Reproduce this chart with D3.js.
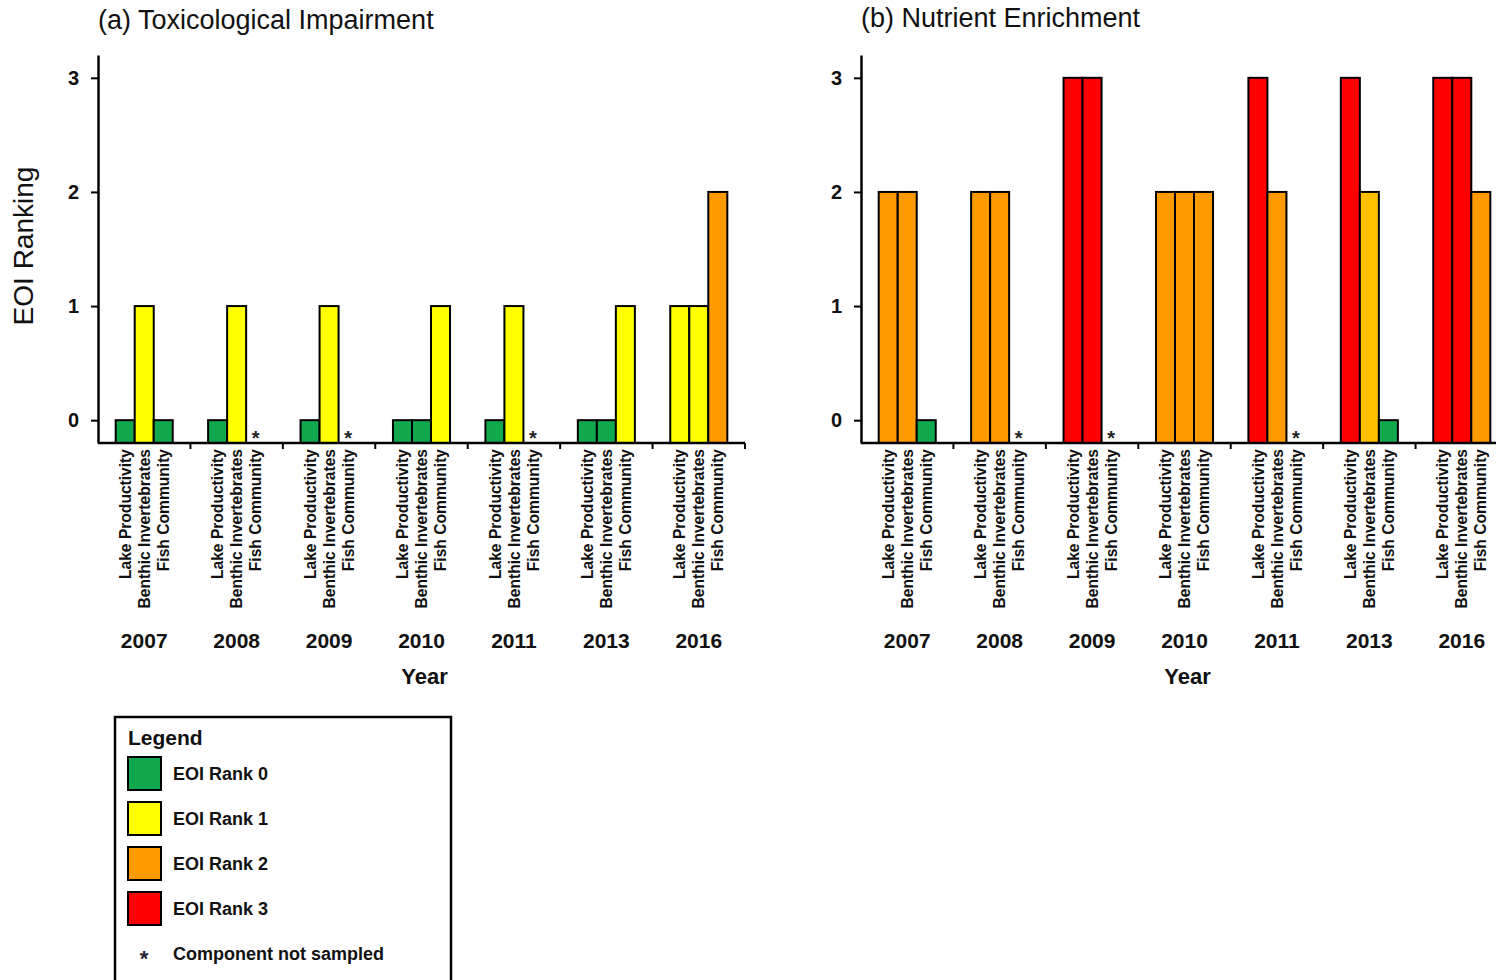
<!DOCTYPE html>
<html>
<head>
<meta charset="utf-8">
<script src="https://cdn.jsdelivr.net/npm/d3@7"></script>
<style>
  html, body { margin: 0; padding: 0; background: #fff; }
  svg { display: block; font-family: "Liberation Sans", Arial, sans-serif; }
</style>
</head>
<body>
<svg id="chart" width="1496" height="980"></svg>
<script>
// ---- data ----
const years = ["2007", "2008", "2009", "2010", "2011", "2013", "2016"];
const components = ["Lake Productivity", "Benthic Invertebrates", "Fish Community"];
// null = component not sampled
const toxicological = [
  [0, 1, 0],
  [0, 1, null],
  [0, 1, null],
  [0, 0, 1],
  [0, 1, null],
  [0, 0, 1],
  [1, 1, 2]
];
const nutrient = [
  [2, 2, 0],
  [2, 2, null],
  [3, 3, null],
  [2, 2, 2],
  [3, 2, null],
  [3, 2, 0],
  [3, 3, 2]
];
const yTicks = [0, 1, 2, 3];
const rankLabels = ["EOI Rank 0", "EOI Rank 1", "EOI Rank 2", "EOI Rank 3"];
const panelTitles = ["(a) Toxicological Impairment", "(b) Nutrient Enrichment"];

// ---- styles ----
const rankColors = ["#12A84E", "#FFFF00", "#FF9A00", "#FF0000"];
const goldFill = "#FFC000"; // 2013 benthic bar in panel (b) is drawn in a gold shade
const svg = d3.select("#chart");

const y = d3.scaleLinear().domain([-0.2, 3.2]).range([443, 55]);

function drawPanel(data, x0, x1, title, titleY, showYLabel, special) {
  const g = svg.append("g");
  const x = d3.scaleBand().domain(years).range([x0, x1]).padding(0);
  const xi = d3.scaleBand().domain(components).range([0, x.bandwidth()])
    .paddingInner(0).paddingOuter(0.93);

  // bars
  years.forEach((yr, i) => {
    data[i].forEach((v, j) => {
      const cx = x(yr) + xi(components[j]);
      if (v === null) {
        g.append("text")
          .attr("x", cx + xi.bandwidth() / 2)
          .attr("y", 445)
          .attr("text-anchor", "middle")
          .attr("font-size", 20)
          .attr("font-weight", "bold")
          .attr("fill", "#222")
          .text("*");
        return;
      }
      let fill = rankColors[v];
      if (special && special.year === yr && special.comp === j) fill = special.fill;
      g.append("rect")
        .attr("x", cx)
        .attr("y", y(v))
        .attr("width", xi.bandwidth())
        .attr("height", y(-0.2) - y(v))
        .attr("fill", fill)
        .attr("stroke", "#000")
        .attr("stroke-width", 2);
    });
  });

  // y axis
  const yAxis = d3.axisLeft(y).tickValues(yTicks).tickFormat(d3.format("d"))
    .tickSize(7).tickPadding(12).tickSizeOuter(0);
  const ya = g.append("g").attr("transform", `translate(${x0},0)`).call(yAxis);
  ya.select(".domain").attr("stroke", "#000").attr("stroke-width", 2.5);
  ya.selectAll(".tick line").attr("stroke", "#000").attr("stroke-width", 2);
  ya.selectAll(".tick text").attr("font-size", 20).attr("font-weight", "bold")
    .attr("fill", "#111").attr("font-family", "Liberation Sans, Arial, sans-serif");

  // x baseline with ticks at group boundaries
  const bounds = years.map(yr => x(yr)).concat([x1]);
  g.append("line").attr("x1", x0).attr("x2", x1)
    .attr("y1", y(-0.2)).attr("y2", y(-0.2))
    .attr("stroke", "#000").attr("stroke-width", 2.5);
  g.selectAll(".xt").data(bounds.slice(1)).enter().append("line")
    .attr("x1", d => d).attr("x2", d => d)
    .attr("y1", y(-0.2)).attr("y2", y(-0.2) + 6)
    .attr("stroke", "#000").attr("stroke-width", 2);

  // component labels
  years.forEach(yr => {
    components.forEach(c => {
      const cx = x(yr) + xi(c) + xi.bandwidth() / 2;
      g.append("text")
        .attr("transform", `translate(${cx},449) rotate(-90)`)
        .attr("text-anchor", "end")
        .attr("dy", "0.36em")
        .attr("font-size", 15.6)
        .attr("font-weight", "bold")
        .attr("fill", "#111")
        .text(c);
    });
    g.append("text")
      .attr("x", x(yr) + x.bandwidth() / 2)
      .attr("y", 648)
      .attr("text-anchor", "middle")
      .attr("font-size", 21)
      .attr("font-weight", "bold")
      .attr("fill", "#111")
      .text(yr);
  });

  g.append("text")
    .attr("x", (x0 + x1) / 2 + 3)
    .attr("y", 684)
    .attr("text-anchor", "middle")
    .attr("font-size", 22)
    .attr("font-weight", "bold")
    .attr("fill", "#111")
    .text("Year");

  g.append("text")
    .attr("x", x0)
    .attr("y", titleY)
    .attr("font-size", 27)
    .attr("fill", "#111")
    .text(title);

  if (showYLabel) {
    g.append("text")
      .attr("transform", "translate(33,246) rotate(-90)")
      .attr("text-anchor", "middle")
      .attr("font-size", 28)
      .attr("fill", "#111")
      .text("EOI Ranking");
  }
}

drawPanel(toxicological, 98, 745, panelTitles[0], 29, true, null);
drawPanel(nutrient, 861, 1508, panelTitles[1], 27, false, { year: "2013", comp: 1, fill: goldFill });

// ---- legend ----
const lg = svg.append("g");
lg.append("rect").attr("x", 115).attr("y", 717).attr("width", 336).attr("height", 280)
  .attr("fill", "#fff").attr("stroke", "#000").attr("stroke-width", 2.5);
lg.append("text").attr("x", 128).attr("y", 745).attr("font-size", 21)
  .attr("font-weight", "bold").attr("fill", "#111").text("Legend");
rankLabels.forEach((lab, i) => {
  lg.append("rect").attr("x", 128).attr("y", 757 + i * 45).attr("width", 33).attr("height", 33)
    .attr("fill", rankColors[i]).attr("stroke", "#000").attr("stroke-width", 2);
  lg.append("text").attr("x", 173).attr("y", 757 + i * 45 + 23).attr("font-size", 18)
    .attr("font-weight", "bold").attr("fill", "#111").text(lab);
});
lg.append("text").attr("x", 144).attr("y", 966).attr("text-anchor", "middle")
  .attr("font-size", 22).attr("font-weight", "bold").attr("fill", "#223").text("*");
lg.append("text").attr("x", 173).attr("y", 960).attr("font-size", 18)
  .attr("font-weight", "bold").attr("fill", "#111").text("Component not sampled");
</script>
</body>
</html>
